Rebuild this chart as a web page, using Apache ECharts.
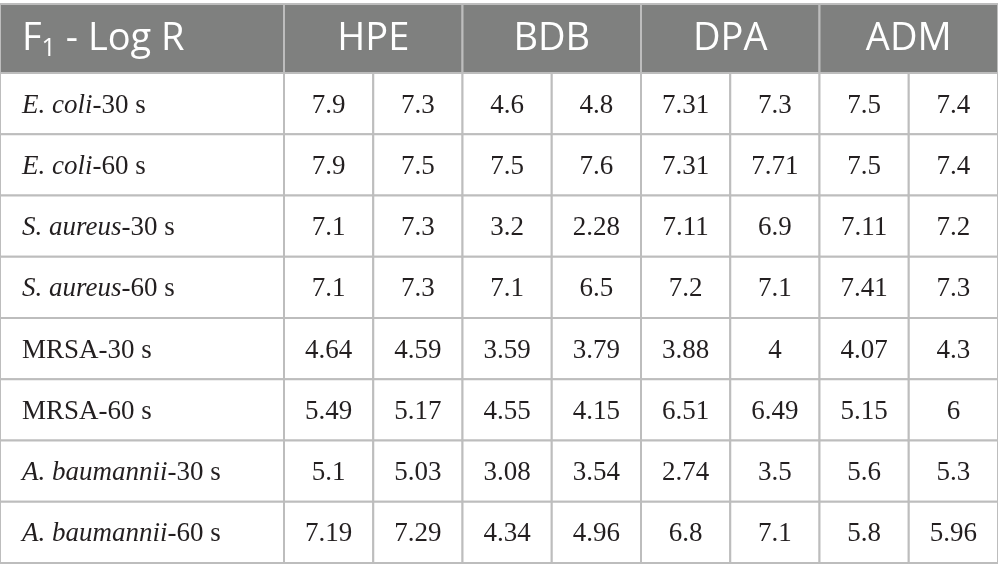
<!DOCTYPE html>
<html lang="en">
<head>
    <meta charset="UTF-8">
    <title>F1 - Log R</title>
    <script src="https://cdn.jsdelivr.net/npm/echarts@6/dist/echarts.min.js"></script>
    <style>
        html, body { margin: 0; padding: 0; background: #fff; }
    </style>
</head>
<body>
    <div id="table" style="width:998px;height:582px;"></div>
    <script>
        // table contents
        var groups = ['HPE', 'BDB', 'DPA', 'ADM'];
        var columns = ['HPE-a', 'HPE-b', 'BDB-a', 'BDB-b', 'DPA-a', 'DPA-b', 'ADM-a', 'ADM-b'];
        var species = ['E. coli', 'E. coli', 'S. aureus', 'S. aureus', 'MRSA', 'MRSA', 'A. baumannii', 'A. baumannii'];
        var times = ['-30 s', '-60 s', '-30 s', '-60 s', '-30 s', '-60 s', '-30 s', '-60 s'];
        var italic = [true, true, true, true, false, false, true, true];

        var hpeA = [7.9, 7.9, 7.1, 7.1, 4.64, 5.49, 5.1, 7.19];
        var hpeB = [7.3, 7.5, 7.3, 7.3, 4.59, 5.17, 5.03, 7.29];
        var bdbA = [4.6, 7.5, 3.2, 7.1, 3.59, 4.55, 3.08, 4.34];
        var bdbB = [4.8, 7.6, 2.28, 6.5, 3.79, 4.15, 3.54, 4.96];
        var dpaA = [7.31, 7.31, 7.11, 7.2, 3.88, 6.51, 2.74, 6.8];
        var dpaB = [7.3, 7.71, 6.9, 7.1, 4, 6.49, 3.5, 7.1];
        var admA = [7.5, 7.5, 7.11, 7.41, 4.07, 5.15, 5.6, 5.8];
        var admB = [7.4, 7.4, 7.2, 7.3, 4.3, 6, 5.3, 5.96];

        var valueColumns = [hpeA, hpeB, bdbA, bdbB, dpaA, dpaB, admA, admB];
        var rowKeys = species.map(function (s, i) { return s + times[i]; });

        var lineColor = '#bdbdbd';
        var headFill = '#7f807f';
        var serif = 'Liberation Serif';
        var sans = 'Open Sans';

        var cellData = [];
        for (var c = 0; c < valueColumns.length; c++) {
            for (var r = 0; r < rowKeys.length; r++) {
                cellData.push([c, r, valueColumns[c][r]]);
            }
        }
        var labelData = rowKeys.map(function (k, i) { return [0, i]; });
        var groupData = groups.map(function (g, i) { return [i, 0]; });

        function cellRect(api, fill, stroke) {
            var p = api.coord([api.value(0), api.value(1)]);
            var s = api.size([1, 1]);
            return {
                p: p, s: s,
                rect: {
                    type: 'rect',
                    shape: { x: p[0] - s[0] / 2, y: p[1] - s[1] / 2, width: s[0], height: s[1] },
                    style: { fill: fill, stroke: stroke, lineWidth: 2 }
                }
            };
        }

        var chart = echarts.init(document.getElementById('table'));

        var option = {
            backgroundColor: '#fff',
            animation: false,
            grid: [
                { left: 0, top: 4, width: 284, height: 69 },
                { left: 284, top: 4, width: 714, height: 69 },
                { left: 0, top: 73, width: 284, height: 490 },
                { left: 284, top: 73, width: 714, height: 490 }
            ],
            xAxis: [
                { type: 'category', gridIndex: 0, data: ['label'], show: false },
                { type: 'category', gridIndex: 1, data: groups, show: false },
                { type: 'category', gridIndex: 2, data: ['label'], show: false },
                { type: 'category', gridIndex: 3, data: columns, show: false }
            ],
            yAxis: [
                { type: 'category', gridIndex: 0, data: ['head'], show: false },
                { type: 'category', gridIndex: 1, data: ['head'], show: false },
                { type: 'category', gridIndex: 2, data: rowKeys, inverse: true, show: false },
                { type: 'category', gridIndex: 3, data: rowKeys, inverse: true, show: false }
            ],
            series: [
                {
                    type: 'custom', xAxisIndex: 0, yAxisIndex: 0, clip: false,
                    data: [[0, 0]],
                    renderItem: function (params, api) {
                        var c = cellRect(api, headFill, lineColor);
                        return {
                            type: 'group', children: [c.rect, {
                                type: 'text',
                                style: {
                                    text: '{m|F}{s|1}{m| - Log R}',
                                    x: c.p[0] - c.s[0] / 2 + 22, y: c.p[1] + 1,
                                    align: 'left', verticalAlign: 'middle',
                                    rich: {
                                        m: { fontFamily: sans, fontSize: 38, lineHeight: 44, fill: '#fff', verticalAlign: 'middle' },
                                        s: { fontFamily: sans, fontSize: 25, lineHeight: 25, fill: '#fff', verticalAlign: 'bottom' }
                                    }
                                }
                            }]
                        };
                    }
                },
                {
                    type: 'custom', xAxisIndex: 1, yAxisIndex: 1, clip: false,
                    data: groupData,
                    renderItem: function (params, api) {
                        var c = cellRect(api, headFill, lineColor);
                        return {
                            type: 'group', children: [c.rect, {
                                type: 'text',
                                style: {
                                    text: groups[params.dataIndex],
                                    x: c.p[0], y: c.p[1] + 1,
                                    align: 'center', verticalAlign: 'middle',
                                    fontFamily: sans, fontSize: 38, fill: '#fff'
                                }
                            }]
                        };
                    }
                },
                {
                    type: 'custom', xAxisIndex: 2, yAxisIndex: 2, clip: false,
                    data: labelData,
                    renderItem: function (params, api) {
                        var i = params.dataIndex;
                        var c = cellRect(api, '#fff', lineColor);
                        var txt = (italic[i] ? '{i|' : '{n|') + species[i] + '}{n|' + times[i] + '}';
                        return {
                            type: 'group', children: [c.rect, {
                                type: 'text',
                                style: {
                                    text: txt,
                                    x: c.p[0] - c.s[0] / 2 + 22, y: c.p[1] + 2,
                                    align: 'left', verticalAlign: 'middle',
                                    rich: {
                                        i: { fontFamily: serif, fontSize: 27, fontStyle: 'italic', fill: '#231f20' },
                                        n: { fontFamily: serif, fontSize: 27, fill: '#231f20' }
                                    }
                                }
                            }]
                        };
                    }
                },
                {
                    type: 'custom', xAxisIndex: 3, yAxisIndex: 3, clip: false,
                    data: cellData,
                    encode: { x: 0, y: 1 },
                    renderItem: function (params, api) {
                        var c = cellRect(api, '#fff', lineColor);
                        return {
                            type: 'group', children: [c.rect, {
                                type: 'text',
                                style: {
                                    text: String(api.value(2)),
                                    x: c.p[0], y: c.p[1] + 2,
                                    align: 'center', verticalAlign: 'middle',
                                    fontFamily: serif, fontSize: 27, fill: '#231f20'
                                }
                            }]
                        };
                    }
                }
            ]
        };

        chart.setOption(option);
    </script>
</body>
</html>
